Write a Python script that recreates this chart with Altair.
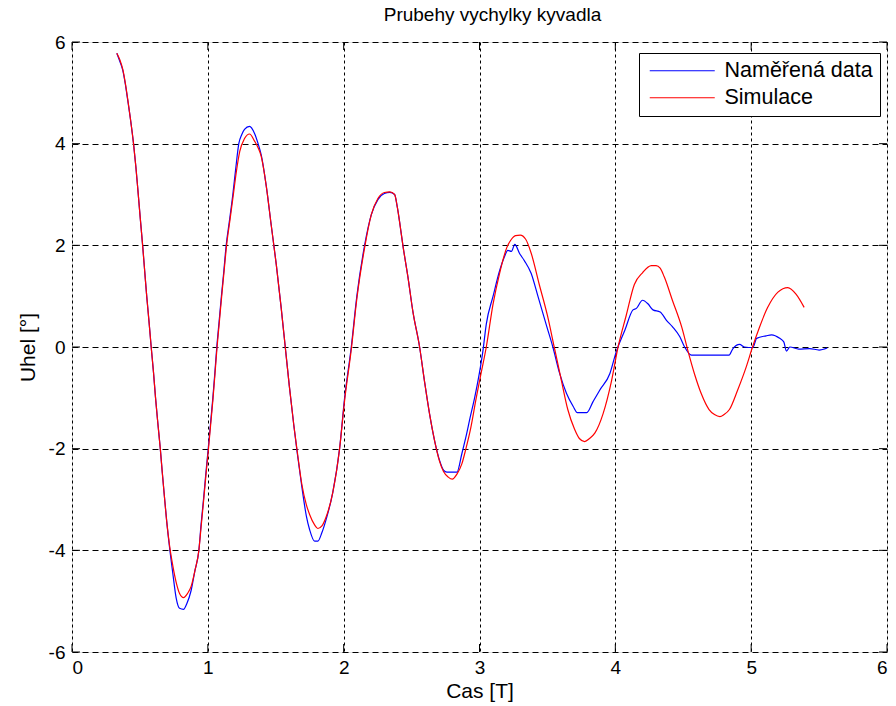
import altair as alt
import pandas as pd

title_text = "Prubehy vychylky kyvadla"
x_title = "Cas [T]"
y_title = "Uhel [°]"
series_names = ["Naměřená data", "Simulace"]
series_colors = ["#0000ff", "#ff0000"]
x_ticks = [0, 1, 2, 3, 4, 5, 6]
y_ticks = [-6, -4, -2, 0, 2, 4, 6]

t_meas = [0.330, 0.352, 0.374, 0.392, 0.410, 0.432, 0.453, 0.470, 0.485, 0.502,
          0.520, 0.535, 0.550, 0.567, 0.583, 0.600, 0.615, 0.632, 0.650, 0.665,
          0.680, 0.698, 0.718, 0.742, 0.767, 0.792, 0.821, 0.845, 0.877, 0.905,
          0.934, 0.950, 0.968, 0.985, 1.003, 1.020, 1.037, 1.052, 1.066, 1.083,
          1.100, 1.118, 1.135, 1.160, 1.184, 1.205, 1.228, 1.250, 1.270, 1.307,
          1.344, 1.370, 1.393, 1.430, 1.467, 1.504, 1.540, 1.570, 1.600, 1.633,
          1.658, 1.692, 1.725, 1.750, 1.786, 1.810, 1.840, 1.870, 1.920, 1.970,
          2.007, 2.056, 2.097, 2.154, 2.203, 2.252, 2.300, 2.340, 2.375, 2.395,
          2.415, 2.436, 2.473, 2.510, 2.559, 2.596, 2.632, 2.670, 2.706, 2.735,
          2.760, 2.800, 2.834, 2.870, 2.900, 2.930, 2.964, 3.000, 3.025, 3.050,
          3.100, 3.148, 3.180, 3.209, 3.235, 3.260, 3.295, 3.330, 3.380, 3.430,
          3.490, 3.540, 3.590, 3.640, 3.690, 3.720, 3.790, 3.835, 3.885, 3.960,
          4.007, 4.070, 4.130, 4.155, 4.200, 4.240, 4.277, 4.330, 4.375, 4.420,
          4.475, 4.510, 4.560, 4.837, 4.866, 4.915, 4.950, 5.013, 5.040, 5.110,
          5.150, 5.210, 5.240, 5.260, 5.285, 5.350, 5.430, 5.500, 5.560]
a_meas = [5.78, 5.62, 5.44, 5.18, 4.86, 4.45, 4.00, 3.55, 3.09, 2.55,
          2.00, 1.50, 1.00, 0.50, 0.00, -0.50, -1.00, -1.50, -2.00, -2.48,
          -2.93, -3.45, -3.94, -4.45, -4.94, -5.14, -5.16, -5.05, -4.79, -4.40,
          -4.00, -3.50, -3.00, -2.50, -2.00, -1.50, -1.00, -0.50, 0.00, 0.50,
          1.00, 1.50, 2.00, 2.50, 3.00, 3.50, 4.00, 4.18, 4.28, 4.34,
          4.20, 4.00, 3.78, 3.17, 2.39, 1.62, 0.77, 0.00, -0.77, -1.54,
          -2.08, -2.75, -3.32, -3.60, -3.82, -3.82, -3.65, -3.40, -2.86, -2.00,
          -1.00, 0.00, 1.00, 2.00, 2.60, 2.90, 3.02, 3.04, 3.00, 2.75,
          2.40, 2.00, 1.38, 0.69, 0.00, -0.69, -1.31, -1.85, -2.23, -2.42,
          -2.46, -2.46, -2.46, -2.10, -1.77, -1.40, -1.00, -0.50, -0.08, 0.45,
          1.00, 1.50, 1.75, 1.90, 1.88, 2.02, 1.84, 1.70, 1.45, 1.00,
          0.45, 0.00, -0.52, -0.91, -1.17, -1.29, -1.29, -1.08, -0.85, -0.52,
          -0.09, 0.33, 0.73, 0.76, 0.92, 0.85, 0.73, 0.69, 0.53, 0.40,
          0.20, 0.00, -0.16, -0.16, -0.03, 0.05, 0.00, -0.01, 0.17, 0.22,
          0.24, 0.17, 0.10, -0.08, 0.00, -0.04, -0.03, -0.06, -0.02]

t_sim = [0.330, 0.352, 0.374, 0.392, 0.410, 0.432, 0.453, 0.470, 0.485, 0.502,
         0.520, 0.535, 0.550, 0.567, 0.583, 0.600, 0.615, 0.632, 0.650, 0.665,
         0.680, 0.698, 0.718, 0.742, 0.767, 0.792, 0.821, 0.850, 0.877, 0.905,
         0.934, 0.950, 0.968, 0.985, 1.003, 1.020, 1.037, 1.052, 1.068, 1.085,
         1.102, 1.120, 1.138, 1.163, 1.188, 1.210, 1.235, 1.270, 1.307, 1.344,
         1.370, 1.393, 1.430, 1.467, 1.504, 1.540, 1.570, 1.600, 1.633, 1.658,
         1.692, 1.725, 1.750, 1.786, 1.810, 1.840, 1.870, 1.920, 1.970, 2.007,
         2.056, 2.097, 2.154, 2.203, 2.252, 2.300, 2.340, 2.375, 2.395, 2.415,
         2.436, 2.473, 2.510, 2.559, 2.596, 2.632, 2.670, 2.706, 2.735, 2.770,
         2.800, 2.834, 2.870, 2.900, 2.935, 2.976, 3.010, 3.050, 3.100, 3.148,
         3.200, 3.230, 3.265, 3.300, 3.340, 3.380, 3.440, 3.500, 3.550, 3.600,
         3.650, 3.700, 3.735, 3.774, 3.810, 3.850, 3.910, 3.970, 4.020, 4.080,
         4.140, 4.200, 4.265, 4.300, 4.330, 4.360, 4.420, 4.490, 4.535, 4.584,
         4.633, 4.690, 4.730, 4.770, 4.800, 4.840, 4.900, 4.965, 5.010, 5.060,
         5.120, 5.197, 5.270, 5.330, 5.390]
a_sim = [5.78, 5.65, 5.46, 5.20, 4.88, 4.45, 4.00, 3.55, 3.09, 2.55,
         2.00, 1.50, 1.00, 0.50, 0.00, -0.50, -1.00, -1.50, -2.00, -2.48,
         -2.93, -3.45, -3.90, -4.30, -4.63, -4.85, -4.93, -4.85, -4.71, -4.40,
         -4.00, -3.55, -3.05, -2.55, -2.05, -1.55, -1.05, -0.55, 0.00, 0.50,
         1.00, 1.50, 2.00, 2.50, 3.00, 3.45, 3.85, 4.10, 4.19, 4.05,
         3.92, 3.75, 3.17, 2.39, 1.62, 0.77, 0.00, -0.77, -1.54, -2.05,
         -2.70, -3.10, -3.30, -3.50, -3.57, -3.52, -3.35, -2.86, -2.00, -1.05,
         -0.05, 0.95, 1.95, 2.60, 2.92, 3.04, 3.05, 3.00, 2.75, 2.40,
         2.00, 1.38, 0.69, 0.00, -0.69, -1.31, -1.85, -2.25, -2.45, -2.56,
         -2.60, -2.50, -2.30, -2.00, -1.60, -1.00, -0.54, 0.00, 0.85, 1.45,
         1.95, 2.10, 2.19, 2.20, 2.12, 1.85, 1.23, 0.62, 0.00, -0.62,
         -1.23, -1.62, -1.80, -1.86, -1.80, -1.69, -1.31, -0.69, 0.00, 0.62,
         1.23, 1.46, 1.60, 1.60, 1.55, 1.38, 0.92, 0.38, -0.08, -0.54,
         -0.92, -1.23, -1.33, -1.37, -1.33, -1.23, -0.85, -0.38, 0.00, 0.38,
         0.77, 1.08, 1.17, 1.04, 0.78]

FONT = "Liberation Sans"

df = pd.concat([
    pd.DataFrame({"t": t_meas, "a": a_meas, "s": series_names[0], "o": range(len(t_meas))}),
    pd.DataFrame({"t": t_sim, "a": a_sim, "s": series_names[1], "o": range(len(t_sim))}),
], ignore_index=True)

xt = pd.DataFrame({"t": x_ticks})
yt = pd.DataFrame({"v": y_ticks})

W, H = 815, 610

xscale = alt.Scale(domain=[0, 6], nice=False, zero=False)
yscale = alt.Scale(domain=[-6, 6], nice=False, zero=False)

x_axis = alt.Axis(values=x_ticks, grid=True, gridColor="black", gridDash=[3, 3],
                  gridOpacity=1, gridWidth=1, domain=False, ticks=False, tickSize=0,
                  labelPadding=6, labelFont=FONT, labelFontSize=19, labelColor="black",
                  labelExpr="datum.value + ''",
                  title=x_title, titleFont=FONT, titleFontSize=21, titleFontWeight="normal",
                  titleColor="black", titleX=W / 2, titleY=39, titleBaseline="middle",
                  titleAlign="center")
y_axis = alt.Axis(values=y_ticks, grid=True, gridColor="black", gridDash=[6, 4],
                  gridOpacity=1, gridWidth=1, domain=False, ticks=False, tickSize=0,
                  labelPadding=7, labelFont=FONT, labelFontSize=19, labelColor="black",
                  labelExpr="datum.value + ''",
                  title=y_title, titleFont=FONT, titleFontSize=21, titleFontWeight="normal",
                  titleColor="black", titleX=-44, titleY=H / 2, titleBaseline="middle",
                  titleAlign="center", titleAngle=270)

lines = alt.Chart(df).mark_line(strokeWidth=1.2, interpolate="monotone").encode(
    x=alt.X("t:Q", scale=xscale, axis=x_axis),
    y=alt.Y("a:Q", scale=yscale, axis=y_axis),
    color=alt.Color("s:N", scale=alt.Scale(domain=series_names, range=series_colors),
                    sort=series_names,
                    legend=alt.Legend(orient="none", legendX=567, legendY=11, title=None,
                                      strokeColor="black", fillColor="white", padding=7,
                                      symbolType="M-0.875,0H7.25", symbolSize=256,
                                      symbolStrokeWidth=1.2, labelFont=FONT,
                                      labelFontSize=21.5, labelColor="black",
                                      labelOffset=57, rowPadding=4, cornerRadius=0)),
    order="o:Q",
    detail="s:N",
)

tick_bottom = alt.Chart(xt).mark_rule(color="black").encode(
    x=alt.X("t:Q", scale=xscale), y=alt.value(H), y2=alt.value(H - 8))
tick_top = alt.Chart(xt).mark_rule(color="black").encode(
    x=alt.X("t:Q", scale=xscale), y=alt.value(0), y2=alt.value(8))
tick_left = alt.Chart(yt).mark_rule(color="black").encode(
    y=alt.Y("v:Q", scale=yscale), x=alt.value(0), x2=alt.value(8))
tick_right = alt.Chart(yt).mark_rule(color="black").encode(
    y=alt.Y("v:Q", scale=yscale), x=alt.value(W), x2=alt.value(W - 8))

chart = alt.layer(tick_bottom, tick_top, tick_left, tick_right, lines).properties(
    width=W, height=H,
    autosize=alt.AutoSizeParams(type="none"),
    padding={"left": 72, "top": 42, "right": 9, "bottom": 54},
    title=alt.TitleParams(title_text, font=FONT, fontSize=19, fontWeight="normal",
                          color="black", anchor="middle", frame="group",
                          baseline="alphabetic", offset=18, dy=25, dx=13),
).configure_view(stroke="black", strokeWidth=1).configure(background="white")

chart.save("out.html", embed_options={"renderer": "svg", "actions": False})
